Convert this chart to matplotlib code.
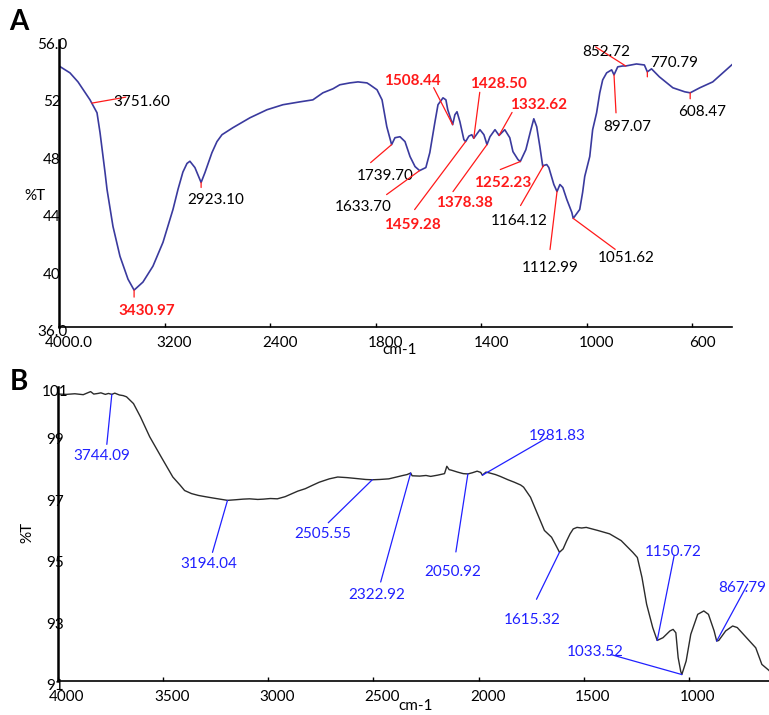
import numpy as np
import matplotlib
matplotlib.use('Agg')
import matplotlib.pyplot as plt
from matplotlib import transforms

plt.rcParams['font.family'] = ['Lato', 'DejaVu Sans']

# ---- spectrum A ----
a_wn = [4000, 3917, 3856, 3765, 3751.6, 3712, 3689, 3651, 3636, 3591, 3538, 3477,
        3430.97, 3364, 3288, 3212, 3136, 3098, 3061, 3030, 3008, 2970, 2923.1, 2894, 2841,
        2803, 2765, 2682, 2553, 2424, 2303, 2174, 2076, 2000, 1962, 1936, 1898, 1867,
        1833, 1822, 1795, 1776, 1758, 1739.7, 1727, 1708, 1689, 1670, 1651, 1633.7,
        1610, 1595, 1576, 1564, 1545, 1534, 1527, 1508.44, 1500, 1492, 1481, 1466,
        1459.28, 1447, 1436, 1428.5, 1405, 1390, 1378.38, 1367, 1348, 1332.62, 1311,
        1292, 1280, 1261, 1252.23, 1231, 1212, 1201, 1190, 1178, 1167, 1164.12, 1152,
        1144, 1125, 1112.99, 1102, 1091, 1076, 1057, 1051.62, 1027, 1016, 1008, 989,
        978, 963, 951, 940, 925, 906, 897.07, 883, 864, 852.72, 812, 782, 770.79, 755,
        725, 674, 629, 608.47, 572, 523, 447]
a_t = [54.19, 53.71, 53.08, 51.83, 51.60, 50.93, 49.54, 46.76, 45.58, 43.01, 40.93, 39.33,
       38.57, 39.13, 40.24, 41.90, 44.20, 45.60, 46.80, 47.40, 47.55, 47.11, 46.07, 46.76, 48.15,
       48.92, 49.40, 49.89, 50.58, 51.14, 51.49, 51.69, 51.83, 52.32, 52.60, 52.88, 53.01, 53.08,
       53.01, 52.88, 52.53, 51.83, 49.96, 48.71, 49.19, 49.26, 48.92, 47.88, 47.18, 46.90,
       47.11, 48.15, 50.24, 51.49, 51.97, 51.83, 51.14, 50.10, 50.79, 51.00, 50.31, 49.06,
       48.92, 49.30, 49.40, 49.15, 49.75, 49.40, 48.71, 49.26, 49.75, 49.35, 49.75,
       49.19, 48.22, 47.67, 47.53, 48.36, 49.75, 50.51, 49.96, 48.57, 47.18, 47.25, 47.32,
       47.11, 45.93, 45.44, 45.93, 45.72, 44.89, 43.99, 43.57, 44.19, 45.38, 46.49, 47.88,
       49.75, 50.93, 52.32, 53.22, 53.71, 53.92, 53.57, 54.13, 54.19, 54.19, 54.33, 54.26, 53.78, 53.99,
       53.43, 52.67, 52.39, 52.32, 52.67, 53.08, 54.33]

a_xticks = [4000, 3200, 2400, 1800, 1400, 1000, 600]
a_xticklabels = ['4000.0', '3200', '2400', '1800', '1400', '1000', '600']
a_yticks = [56, 52, 48, 44, 40, 36]
a_yticklabels = ['56.0', '52', '48', '44', '40', '36.0']

a_peaks = [3751.60, 3430.97, 2923.10, 1739.70, 1633.70, 1508.44, 1459.28, 1428.50,
           1378.38, 1332.62, 1252.23, 1164.12, 1112.99, 1051.62, 897.07, 852.72,
           770.79, 608.47]
a_peak_labels = ['3751.60', '3430.97', '2923.10', '1739.70', '1633.70', '1508.44',
                 '1459.28', '1428.50', '1378.38', '1332.62', '1252.23', '1164.12',
                 '1112.99', '1051.62', '897.07', '852.72', '770.79', '608.47']

# ---- spectrum B ----
b_wn = [4000, 3960, 3920, 3880, 3845, 3830, 3810, 3796, 3775, 3760, 3744.09, 3730, 3708,
        3690, 3674, 3641, 3608, 3564, 3509, 3454, 3420, 3398, 3365, 3332, 3300, 3266,
        3230, 3194.04, 3155, 3120, 3089, 3050, 3023, 2990, 2957, 2920, 2890, 2860, 2824,
        2790, 2758, 2710, 2670, 2625, 2580, 2537, 2505.55, 2470, 2427, 2390, 2360, 2340,
        2322.92, 2316, 2280, 2250, 2228, 2195, 2162, 2151, 2140, 2128, 2100, 2073,
        2050.92, 2029, 2007, 1990, 1981.83, 1965, 1952, 1920, 1897, 1860, 1830, 1800,
        1786, 1753, 1720, 1687, 1653, 1635, 1615.32, 1598, 1582, 1565, 1550, 1532, 1510,
        1488, 1433, 1377, 1322, 1267, 1245, 1223, 1201, 1172, 1150.72, 1123, 1090, 1075,
        1062, 1051, 1039, 1033.52, 1013, 991, 958, 929, 907, 880, 867.79, 858, 825, 792,
        770, 726, 682, 653, 620, 600]
b_t = [100.34, 100.33, 100.35, 100.32, 100.42, 100.34, 100.36, 100.38, 100.33, 100.36, 100.33, 100.37, 100.31,
       100.29, 100.25, 100.03, 99.60, 98.95, 98.29, 97.64, 97.38, 97.20, 97.10, 97.04, 97.00, 96.96,
       96.92, 96.88, 96.90, 96.92, 96.93, 96.91, 96.92, 96.94, 96.93, 97.00, 97.09, 97.18, 97.26,
       97.37, 97.47, 97.58, 97.64, 97.62, 97.59, 97.56, 97.55, 97.56, 97.58, 97.64, 97.69, 97.72,
       97.77, 97.68, 97.67, 97.69, 97.66, 97.70, 97.75, 97.99, 97.88, 97.86, 97.80, 97.75,
       97.74, 97.78, 97.83, 97.79, 97.70, 97.80, 97.78, 97.72, 97.66, 97.55, 97.47, 97.38,
       97.31, 96.98, 96.44, 95.90, 95.68, 95.45, 95.19, 95.30, 95.55, 95.79, 95.95, 96.00, 95.98,
       96.00, 95.90, 95.79, 95.57, 95.19, 95.02, 94.37, 93.50, 92.74, 92.32, 92.41, 92.63, 92.68,
       92.57, 91.76, 91.32, 91.21, 91.65, 92.52, 93.17, 93.28, 93.17, 92.63, 92.30, 92.32, 92.63, 92.79,
       92.74, 92.41, 92.08, 91.54, 91.35, 91.2]

b_xticks = [4000, 3500, 3000, 2500, 2000, 1500, 1000, 600]
b_xticklabels = ['4000', '3500', '3000', '2500', '2000', '1500', '1000', '600']
b_yticks = [100.57, 99, 97, 95, 93, 91]
b_yticklabels = ['101', '99', '97', '95', '93', '91']

b_peaks = [3744.09, 3194.04, 2505.55, 2322.92, 2050.92, 1981.83, 1615.32, 1150.72,
           867.79, 1033.52]
b_peak_labels = ['3744.09', '3194.04', '2505.55', '2322.92', '2050.92', '1981.83',
                 '1615.32', '1150.72', '867.79', '1033.52']

# label layout: (line end dx, dy), (text dx, dy), text colour, bold, ha -- in pixels
RED = '#ff1a1a'
a_layout = [
    ((34, 6), (22, 1), 'black', False, 'left'),
    ((0, -7), (13, -21), RED, True, 'center'),
    ((0, -5), (15, -18), 'black', False, 'center'),
    ((-21, -18), (-6, -31), 'black', False, 'center'),
    ((-33, -24), (-56, -36), 'black', False, 'center'),
    ((-19, 37), (-40, 44), RED, True, 'center'),
    ((-51, -68), (-53, -83), RED, True, 'center'),
    ((6, 46), (25, 54), RED, True, 'center'),
    ((-34, -47), (-22, -58), RED, True, 'center'),
    ((13, 23), (40, 30), RED, True, 'center'),
    ((-20, -8), (-18, -21), RED, True, 'center'),
    ((-23, -40), (-24, -55), 'black', False, 'center'),
    ((-7, -58), (-7, -76), 'black', False, 'center'),
    ((42, -31), (53, -40), 'black', False, 'center'),
    ((2, -38), (13, -52), 'black', False, 'center'),
    ((-30, 19), (-19, 14), 'black', False, 'center'),
    ((0, -5), (27, 9), 'black', False, 'center'),
    ((0, -6), (12, -19), 'black', False, 'center'),
]
BLUE = '#2020ff'
b_layout = [
    ((-5, -50), (-10, -62), 'center'),
    ((-15, -52), (-19, -64), 'center'),
    ((-44, -43), (-50, -54), 'center'),
    ((-30, -109), (-34, -122), 'center'),
    ((-12, -78), (-15, -98), 'center'),
    ((64, 37), (75, 39), 'center'),
    ((-23, -47), (-27, -68), 'center'),
    ((17, 85), (16, 88), 'center'),
    ((31, 57), (2, 53), 'left'),
    ((-71, 20), (-87, 23), 'center'),
]

fig = plt.figure(figsize=(7.69, 7.15), dpi=100)
W, H = 769, 715


def px_axes(left, top, right, bottom):
    return fig.add_axes([left / W, (H - bottom) / H, (right - left) / W, (bottom - top) / H])


def style_axes(ax, xticks, xlabels, yticks, ylabels, xoff, ylab_dx):
    for s in ['top', 'right']:
        ax.spines[s].set_visible(False)
    ax.spines['left'].set_linewidth(1.8)
    ax.spines['bottom'].set_linewidth(1.2)
    ax.set_xticks(xticks)
    ax.set_xticklabels([])
    ax.set_yticks(yticks)
    ax.set_yticklabels([])
    ax.tick_params(axis='x', direction='in', length=3, width=1)
    ax.tick_params(axis='y', length=0)
    xtr = transforms.offset_copy(ax.get_xaxis_transform(), fig=fig, x=xoff, y=-16, units='dots')
    for t, l in zip(xticks, xlabels):
        ax.text(t, 0, l, transform=xtr, ha='center', va='center', fontsize=11)
    ytr = transforms.offset_copy(ax.get_yaxis_transform(), fig=fig, x=ylab_dx, y=-5, units='dots')
    for t, l in zip(yticks, ylabels):
        ax.text(0, t, l, transform=ytr, ha='center', va='center', fontsize=11)


def mark(ax, wn, t, value, label, line_end, text_pos, line_c, text_c, bold, ha):
    y = np.interp(value, np.array(wn)[::-1], np.array(t)[::-1])
    ax.annotate('', xy=(value, y), xytext=line_end, textcoords='offset pixels',
                arrowprops=dict(arrowstyle='-', color=line_c, lw=0.9, shrinkA=0, shrinkB=0))
    ax.annotate(label, xy=(value, y), xytext=text_pos, textcoords='offset pixels',
                ha=ha, va='center', color=text_c, fontsize=11,
                fontweight='bold' if bold else 'normal', annotation_clip=False)


# panel A: wavenumber axis expanded 2x below 2000
def fwd(x):
    x = np.asarray(x, dtype=float)
    return np.where(x >= 2000, x, 2 * x - 2000)


def inv(u):
    u = np.asarray(u, dtype=float)
    return np.where(u >= 2000, u, (u + 2000) / 2)


axA = px_axes(59, 40, 732, 327)
axA.set_xscale('function', functions=(fwd, inv))
axA.plot(a_wn, a_t, color='#3a3a9e', lw=1.2)
axA.set_xlim(4000, 450)
axA.set_ylim(36, 56)
style_axes(axA, a_xticks, a_xticklabels, a_yticks, a_yticklabels, 10, -7)
for p, l, (le, tp, col, bold, ha) in zip(a_peaks, a_peak_labels, a_layout):
    mark(axA, a_wn, a_t, p, l, le, tp, RED, col, bold, ha)
fig.text(400 / W, 1 - 350 / H, 'cm-1', ha='center', va='center', fontsize=11)
fig.text(35 / W, 1 - 196 / H, '%T', ha='center', va='center', fontsize=11)
fig.text(19 / W, 1 - 22 / H, 'A', ha='center', va='center', fontsize=20, fontweight='bold')

# panel B
axB = px_axes(58, 387, 773, 681)
axB.plot(b_wn, b_t, color='#2b2b2b', lw=1.0)
axB.set_xlim(4000, 600)
axB.set_ylim(91, 100.57)
style_axes(axB, b_xticks, b_xticklabels, b_yticks, b_yticklabels, 9, -3)
for p, l, (le, tp, ha) in zip(b_peaks, b_peak_labels, b_layout):
    mark(axB, b_wn, b_t, p, l, le, tp, BLUE, BLUE, False, ha)
fig.text(416 / W, 1 - 706 / H, 'cm-1', ha='center', va='center', fontsize=11)
fig.text(27 / W, 1 - 532 / H, '%T', ha='center', va='center', fontsize=11, rotation=90)
fig.text(19 / W, 1 - 382 / H, 'B', ha='center', va='center', fontsize=20, fontweight='bold')

fig.savefig('out.png', dpi=100)
